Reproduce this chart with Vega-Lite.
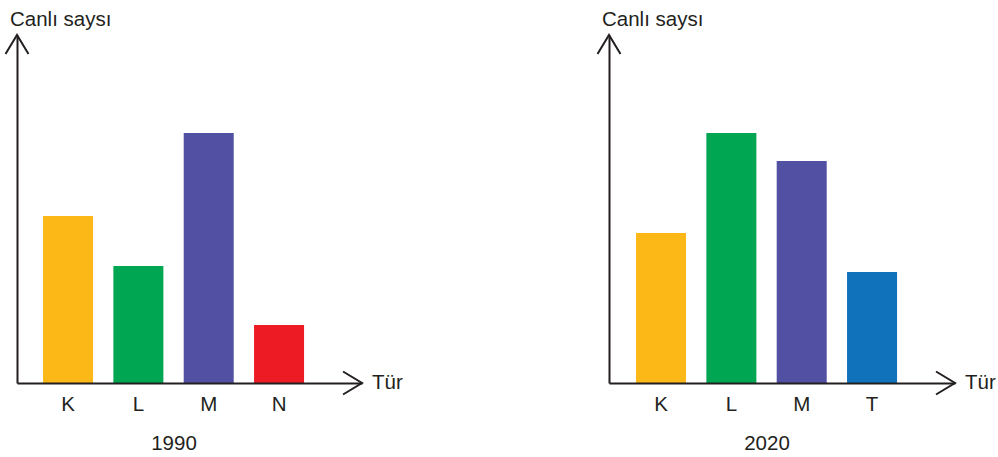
{
  "$schema": "https://vega.github.io/schema/vega-lite/v6.json",
  "background": "white",
  "padding": {"left": 1, "top": 10, "right": 2, "bottom": 5},
  "bounds": "flush",
  "spacing": 247,
  "config": {
    "view": {"stroke": null},
    "font": "Liberation Sans",
    "text": {"font": "Liberation Sans"}
  },
  "datasets": {
    "y1990": [
      {"tur": "K", "sayi": 6.68},
      {"tur": "L", "sayi": 4.68},
      {"tur": "M", "sayi": 10},
      {"tur": "N", "sayi": 2.32}
    ],
    "y2020": [
      {"tur": "K", "sayi": 6.0},
      {"tur": "L", "sayi": 10},
      {"tur": "M", "sayi": 8.88},
      {"tur": "T", "sayi": 4.44}
    ]
  },
  "hconcat": [
    {
      "width": 345,
      "height": 348,
      "layer": [
        {
          "data": {"name": "y1990"},
          "mark": {"type": "bar"},
          "encoding": {
            "x": {
              "field": "tur", "type": "nominal", "sort": null,
              "scale": {"paddingInner": 0.289, "paddingOuter": 0.597, "align": 0.31},
              "axis": {
                "title": "1990", "domain": true, "domainColor": "#231F20", "domainWidth": 2,
                "ticks": false, "tickSize": 0, "labelAngle": 0, "labelFontSize": 20.5,
                "labelFont": "Liberation Sans", "labelColor": "#231F20", "labelBaseline": "middle",
                "labelPadding": 21, "titleFontSize": 20.5, "titleFont": "Liberation Sans",
                "titleFontWeight": "normal", "titleColor": "#231F20", "titleX": 156.5, "titleY": 60,
                "titleBaseline": "middle", "titleAlign": "center", "zindex": 1, "grid": false
              }
            },
            "y": {
              "field": "sayi", "type": "quantitative",
              "scale": {"domain": [0, 13.92], "nice": false, "zero": true},
              "axis": {"title": null, "domain": true, "domainColor": "#231F20", "domainWidth": 2,
                       "ticks": false, "labels": false, "grid": false, "zindex": 1}
            },
            "color": {
              "field": "tur", "type": "nominal",
              "scale": {"domain": ["K", "L", "M", "N", "T"],
                        "range": ["#FBB817", "#00A651", "#5150A2", "#ED1C24", "#1172BC"]},
              "legend": null
            }
          }
        },
        {
          "data": {"values": [{}]},
          "layer": [
            {
              "mark": {"type": "point", "shape": "M -1.65 -1 L 0 0 L -1.65 1", "filled": false,
                       "size": 529, "stroke": "#231F20", "strokeWidth": 2, "opacity": 1},
              "encoding": {
                "x": {"datum": 1, "type": "quantitative", "scale": {"domain": [0, 1], "nice": false, "zero": false}, "axis": null},
                "y": {"datum": 0, "type": "quantitative"}
              }
            },
            {
              "mark": {"type": "point", "shape": "M -1 1.65 L 0 0 L 1 1.65", "filled": false,
                       "size": 529, "stroke": "#231F20", "strokeWidth": 2, "opacity": 1},
              "encoding": {
                "x": {"datum": 0, "type": "quantitative", "scale": {"domain": [0, 1], "nice": false, "zero": false}, "axis": null},
                "y": {"datum": 13.92, "type": "quantitative"}
              }
            },
            {
              "mark": {"type": "text", "text": "Tür", "align": "left", "baseline": "middle", "dx": 10,
                       "fontSize": 20.5, "color": "#231F20"},
              "encoding": {
                "x": {"datum": 1, "type": "quantitative", "scale": {"domain": [0, 1], "nice": false, "zero": false}, "axis": null},
                "y": {"datum": 0, "type": "quantitative"}
              }
            },
            {
              "mark": {"type": "text", "text": "Canlı saysı", "align": "left", "baseline": "alphabetic",
                       "dx": -7, "dy": -9, "fontSize": 20.5, "color": "#231F20"},
              "encoding": {
                "x": {"datum": 0, "type": "quantitative", "scale": {"domain": [0, 1], "nice": false, "zero": false}, "axis": null},
                "y": {"datum": 13.92, "type": "quantitative"}
              }
            }
          ]
        }
      ],
      "resolve": {"scale": {"x": "independent"}}
    },
    {
      "width": 346,
      "height": 348,
      "layer": [
        {
          "data": {"name": "y2020"},
          "mark": {"type": "bar"},
          "encoding": {
            "x": {
              "field": "tur", "type": "nominal", "sort": null,
              "scale": {"paddingInner": 0.289, "paddingOuter": 0.604, "align": 0.318},
              "axis": {
                "title": "2020", "domain": true, "domainColor": "#231F20", "domainWidth": 2,
                "ticks": false, "tickSize": 0, "labelAngle": 0, "labelFontSize": 20.5,
                "labelFont": "Liberation Sans", "labelColor": "#231F20", "labelBaseline": "middle",
                "labelPadding": 21, "titleFontSize": 20.5, "titleFont": "Liberation Sans",
                "titleFontWeight": "normal", "titleColor": "#231F20", "titleX": 157.5, "titleY": 60,
                "titleBaseline": "middle", "titleAlign": "center", "zindex": 1, "grid": false
              }
            },
            "y": {
              "field": "sayi", "type": "quantitative",
              "scale": {"domain": [0, 13.92], "nice": false, "zero": true},
              "axis": {"title": null, "domain": true, "domainColor": "#231F20", "domainWidth": 2,
                       "ticks": false, "labels": false, "grid": false, "zindex": 1}
            },
            "color": {
              "field": "tur", "type": "nominal",
              "scale": {"domain": ["K", "L", "M", "N", "T"],
                        "range": ["#FBB817", "#00A651", "#5150A2", "#ED1C24", "#1172BC"]},
              "legend": null
            }
          }
        },
        {
          "data": {"values": [{}]},
          "layer": [
            {
              "mark": {"type": "point", "shape": "M -1.65 -1 L 0 0 L -1.65 1", "filled": false,
                       "size": 529, "stroke": "#231F20", "strokeWidth": 2, "opacity": 1},
              "encoding": {
                "x": {"datum": 1, "type": "quantitative", "scale": {"domain": [0, 1], "nice": false, "zero": false}, "axis": null},
                "y": {"datum": 0, "type": "quantitative"}
              }
            },
            {
              "mark": {"type": "point", "shape": "M -1 1.65 L 0 0 L 1 1.65", "filled": false,
                       "size": 529, "stroke": "#231F20", "strokeWidth": 2, "opacity": 1},
              "encoding": {
                "x": {"datum": 0, "type": "quantitative", "scale": {"domain": [0, 1], "nice": false, "zero": false}, "axis": null},
                "y": {"datum": 13.92, "type": "quantitative"}
              }
            },
            {
              "mark": {"type": "text", "text": "Tür", "align": "left", "baseline": "middle", "dx": 10,
                       "fontSize": 20.5, "color": "#231F20"},
              "encoding": {
                "x": {"datum": 1, "type": "quantitative", "scale": {"domain": [0, 1], "nice": false, "zero": false}, "axis": null},
                "y": {"datum": 0, "type": "quantitative"}
              }
            },
            {
              "mark": {"type": "text", "text": "Canlı saysı", "align": "left", "baseline": "alphabetic",
                       "dx": -7, "dy": -9, "fontSize": 20.5, "color": "#231F20"},
              "encoding": {
                "x": {"datum": 0, "type": "quantitative", "scale": {"domain": [0, 1], "nice": false, "zero": false}, "axis": null},
                "y": {"datum": 13.92, "type": "quantitative"}
              }
            }
          ]
        }
      ],
      "resolve": {"scale": {"x": "independent"}}
    }
  ]
}
